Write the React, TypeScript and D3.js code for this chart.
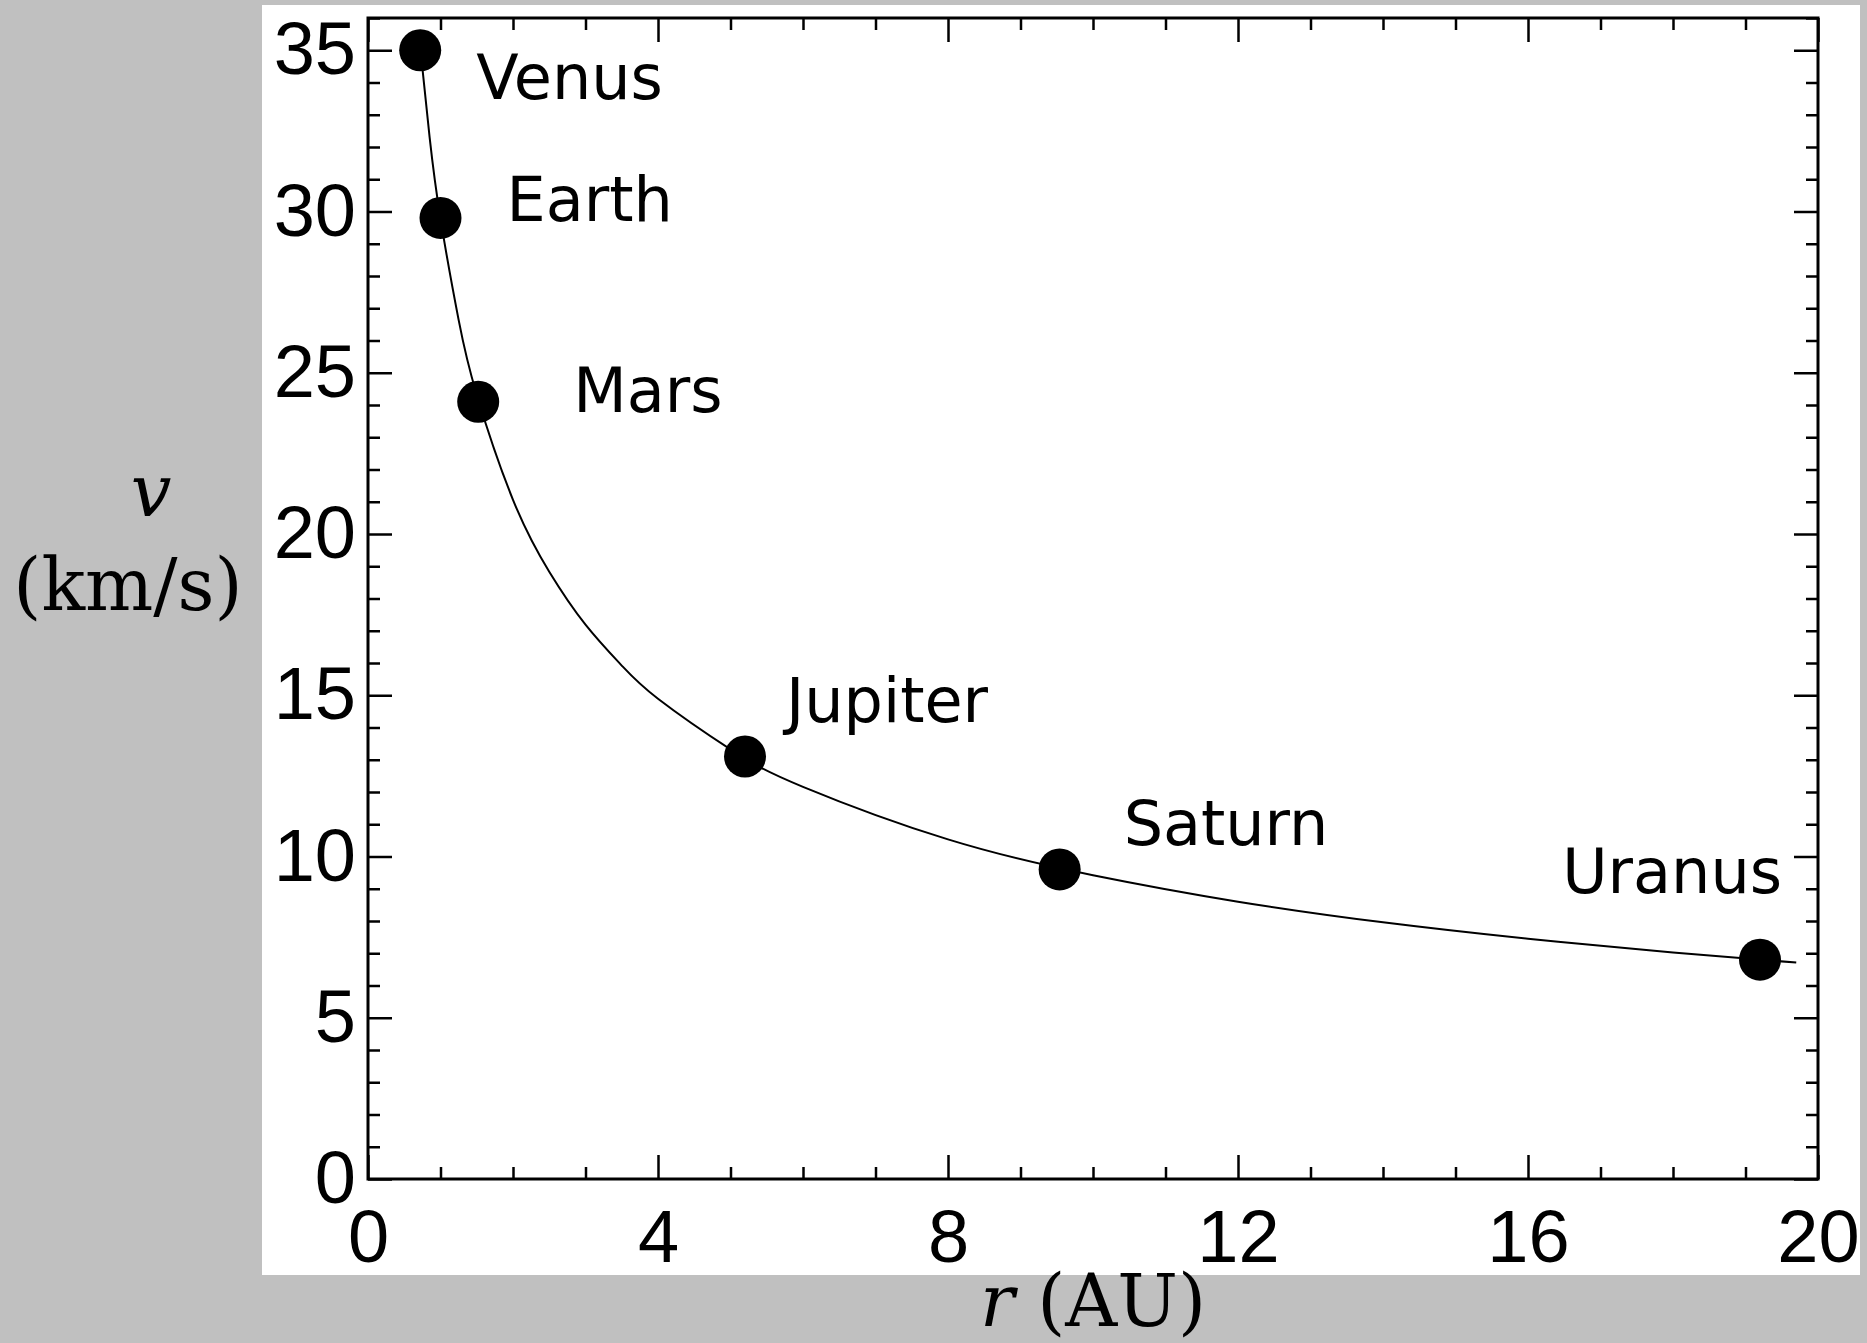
import { useEffect, useRef } from "react";
import * as d3 from "d3";

// planets: orbital radius (AU) and orbital speed (km/s)
const planets = ["Venus", "Earth", "Mars", "Jupiter", "Saturn", "Uranus"];
const radiusAU = [0.72, 1.0, 1.52, 5.2, 9.54, 19.2];
const speedKms = [35.0, 29.8, 24.1, 13.1, 9.6, 6.8];

// points
const curveR = [0.72, 0.85, 1.0, 1.25, 1.5, 2, 2.5, 3, 3.5, 4, 5, 6, 8, 10, 12, 14, 16, 18, 19.7];
const curveV = [35.1, 32.3, 29.78, 26.64, 24.32, 21.06, 18.83, 17.19, 15.92, 14.89, 13.32, 12.16, 10.53, 9.42, 8.6, 7.96, 7.45, 7.02, 6.71];

const xMajor = [0, 4, 8, 12, 16, 20];
const yMajor = [0, 5, 10, 15, 20, 25, 30, 35];

// label offsets from each dot (px)
const labelDx = [56, 66, 95, 41, 64, 22];
const labelDy = [49, 3, 10, -35, -24, -67];
const labelAnchor = ["start", "start", "start", "start", "start", "end"];

const W = 1867;
const H = 1343;
const M = { left: 368, right: 1818, top: 18, bottom: 1179 };

export default function App() {
  const ref = useRef<SVGSVGElement>(null);

  useEffect(() => {
    if (!ref.current) return;
    const svg = d3.select(ref.current);
    svg.selectAll("*").remove();

    const x = d3.scaleLinear().domain([0, 20]).range([M.left, M.right]);
    const y = d3.scaleLinear().domain([0, 36]).range([M.bottom, M.top]);

    svg.append("rect").attr("width", W).attr("height", H).attr("fill", "#c0c0c0");
    svg.append("rect").attr("x", 262).attr("y", 5).attr("width", 1598).attr("height", 1270).attr("fill", "#fff");

    const major = 24;
    const minor = 12;
    const xMinor = d3.range(0, 21).filter((d) => d % 4 !== 0);
    const yMinor = d3.range(0, 37).filter((d) => d % 5 !== 0);

    const style = (g: any) => {
      g.select(".domain").remove();
      g.selectAll("line").attr("stroke", "#000").attr("stroke-width", 2.5);
      g.selectAll("text")
        .attr("fill", "#000")
        .style("font-family", "'Liberation Sans', Arial, sans-serif")
        .style("font-size", "74px");
    };

    const nofmt = () => "";

    // bottom
    svg.append("g").attr("transform", `translate(0,${M.bottom})`)
      .call(d3.axisBottom(x).tickValues(xMajor).tickSize(-major).tickPadding(30).tickFormat(d3.format("d")))
      .call(style);
    svg.append("g").attr("transform", `translate(0,${M.bottom})`)
      .call(d3.axisBottom(x).tickValues(xMinor).tickSize(-minor).tickFormat(nofmt))
      .call(style);
    // top
    svg.append("g").attr("transform", `translate(0,${M.top})`)
      .call(d3.axisTop(x).tickValues(xMajor).tickSize(-major).tickFormat(nofmt))
      .call(style);
    svg.append("g").attr("transform", `translate(0,${M.top})`)
      .call(d3.axisTop(x).tickValues(xMinor).tickSize(-minor).tickFormat(nofmt))
      .call(style);
    // left
    svg.append("g").attr("transform", `translate(${M.left},0)`)
      .call(d3.axisLeft(y).tickValues(yMajor).tickSize(-major).tickPadding(12).tickFormat(d3.format("d")))
      .call(style);
    svg.append("g").attr("transform", `translate(${M.left},0)`)
      .call(d3.axisLeft(y).tickValues(yMinor).tickSize(-minor).tickFormat(nofmt))
      .call(style);
    // right
    svg.append("g").attr("transform", `translate(${M.right},0)`)
      .call(d3.axisRight(y).tickValues(yMajor).tickSize(-major).tickFormat(nofmt))
      .call(style);
    svg.append("g").attr("transform", `translate(${M.right},0)`)
      .call(d3.axisRight(y).tickValues(yMinor).tickSize(-minor).tickFormat(nofmt))
      .call(style);

    // frame
    svg.append("rect")
      .attr("x", M.left).attr("y", M.top)
      .attr("width", M.right - M.left).attr("height", M.bottom - M.top)
      .attr("fill", "none").attr("stroke", "#000").attr("stroke-width", 3);

    // curve
    const line = d3.line<number>()
      .x((_, i) => x(curveR[i]))
      .y((d) => y(d))
      .curve(d3.curveNatural);
    svg.append("path")
      .attr("d", line(curveV))
      .attr("fill", "none")
      .attr("stroke", "#000")
      .attr("stroke-width", 2);

    // dots
    svg.append("g").selectAll("circle")
      .data(planets)
      .join("circle")
      .attr("cx", (_, i) => x(radiusAU[i]))
      .attr("cy", (_, i) => y(speedKms[i]))
      .attr("r", 21)
      .attr("fill", "#000");

    // planet labels
    svg.append("g").selectAll("text")
      .data(planets)
      .join("text")
      .attr("x", (_, i) => x(radiusAU[i]) + labelDx[i])
      .attr("y", (_, i) => y(speedKms[i]) + labelDy[i])
      .attr("text-anchor", (_, i) => labelAnchor[i])
      .style("font-family", "'DejaVu Sans', sans-serif")
      .style("font-size", "62px")
      .text((d) => d);

    // axis titles
    const serif = "'DejaVu Serif', serif";
    const xt = svg.append("text")
      .attr("x", (M.left + M.right) / 2)
      .attr("y", 1326)
      .attr("text-anchor", "middle")
      .style("font-family", serif)
      .style("font-size", "72px");
    xt.append("tspan").style("font-style", "italic").text("r");
    xt.append("tspan").text(" (AU)");

    svg.append("text")
      .attr("x", 151).attr("y", 516)
      .attr("text-anchor", "middle")
      .style("font-family", serif)
      .style("font-style", "italic")
      .style("font-size", "72px")
      .text("v");
    svg.append("text")
      .attr("x", 128).attr("y", 610)
      .attr("text-anchor", "middle")
      .style("font-family", serif)
      .style("font-size", "72px")
      .text("(km/s)");
  }, []);

  return (
    <svg
      ref={ref}
      width={W}
      height={H}
      style={{ position: "absolute", left: 0, top: 0, display: "block" }}
    />
  );
}
